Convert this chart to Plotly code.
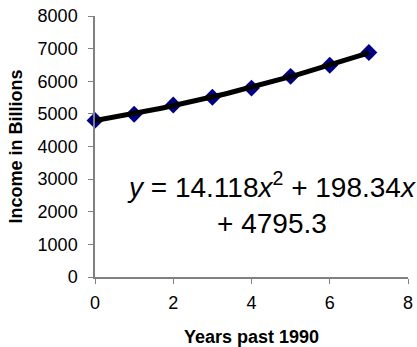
import numpy as np
import plotly.graph_objects as go

years = [0, 1, 2, 3, 4, 5, 6, 7]
income = [4800, 4990, 5270, 5510, 5790, 6150, 6490, 6880]
# trendline coefficients as shown on the chart
coef = [14.118, 198.34, 4795.3]

xfit = np.linspace(0, 7, 100)
yfit = np.polyval(coef, xfit)

font_fam = "Arial, Liberation Sans, sans-serif"

fig = go.Figure()
fig.add_trace(go.Scatter(x=years, y=income, mode="markers",
                         marker=dict(symbol="diamond", size=13, color="#000080"),
                         showlegend=False, cliponaxis=False))
fig.add_trace(go.Scatter(x=xfit, y=yfit, mode="lines",
                         line=dict(color="black", width=5),
                         showlegend=False))

fig.add_annotation(x=4.52, y=2260, xref="x", yref="y",
                   text="<i>y</i> = 14.118<i>x</i><sup>2</sup> + 198.34<i>x</i><br>+ 4795.3",
                   showarrow=False, align="center",
                   font=dict(family=font_fam, size=28, color="black"))

fig.update_layout(
    width=417, height=347,
    margin=dict(l=95, r=9, t=16, b=70),
    plot_bgcolor="white", paper_bgcolor="white",
    font=dict(family=font_fam, color="black"),
    xaxis=dict(range=[0, 8], tickvals=[0, 2, 4, 6, 8], showgrid=False, zeroline=False,
               showline=True, linecolor="#808080", linewidth=1.5,
               ticks="outside", ticklen=5, tickcolor="#808080",
               tickfont=dict(size=18), automargin=False, ticklabelstandoff=4,
               title=dict(text="<b>Years past 1990</b>", font=dict(size=18), standoff=18)),
    yaxis=dict(range=[0, 8000], dtick=1000, showgrid=False, zeroline=False,
               showline=True, linecolor="#808080", linewidth=1.5,
               ticks="outside", ticklen=5, tickcolor="#808080",
               tickfont=dict(size=18), automargin=False, ticklabelstandoff=7,
               title=dict(text="<b>Income in Billions</b>", font=dict(size=18), standoff=10)),
)

# drop the page's default body margin so the figure sits at the window corner
fig.write_html("out.html", config={"displayModeBar": False},
               post_script="document.body.style.margin='0';")
